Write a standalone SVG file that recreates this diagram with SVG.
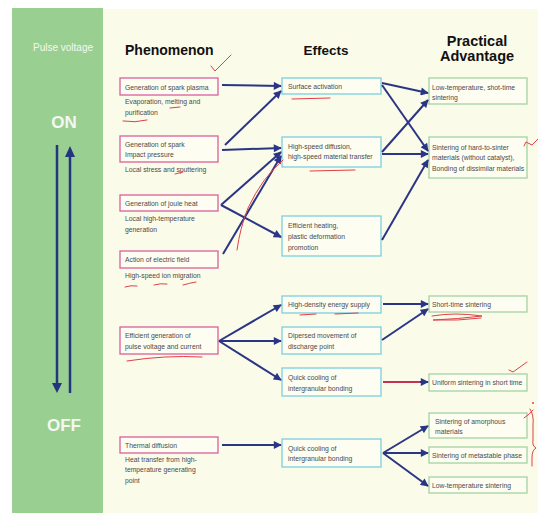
<svg xmlns="http://www.w3.org/2000/svg" width="538" height="513" viewBox="0 0 538 513">
<defs>
<marker id="ah" viewBox="0 0 10 10" refX="9" refY="5" markerWidth="9" markerHeight="8" markerUnits="userSpaceOnUse" orient="auto">
<path d="M0,0 L10,5 L0,10 Z" fill="#2b3585"/>
</marker>
<style>
.t{font-family:"Liberation Sans",Arial,sans-serif;font-size:6.8px;fill:#4a4a4a}
.h{font-family:"Liberation Sans",Arial,sans-serif;font-weight:bold;fill:#111}
.w{font-family:"Liberation Sans",Arial,sans-serif;fill:#f4f8f0;text-anchor:middle}
.pb{fill:#fdfdf2;stroke:#d9609b;stroke-width:1.3}
.eb{fill:#fdfdf2;stroke:#7ccfdc;stroke-width:1.3}
.ab{fill:#fdfdf2;stroke:#a3d3a0;stroke-width:1.3}
.c{stroke:#2b3585;stroke-width:2;fill:none;marker-end:url(#ah)}
.r{stroke:#e0404a;stroke-width:1;fill:none;stroke-linecap:round}
</style>
</defs>
<rect x="0" y="0" width="538" height="513" fill="#ffffff"/>
<rect x="103" y="9" width="435" height="504" fill="#fbfbea"/>
<rect x="12" y="8" width="91" height="505" fill="#9acf92"/>
<g id="sidebar">
<text class="w" x="63" y="51" font-size="10">Pulse voltage</text>
<text class="w" x="64" y="128" font-size="17" font-weight="bold">ON</text>
<text class="w" x="64" y="431" font-size="17" font-weight="bold">OFF</text>
<line x1="57" y1="145" x2="57" y2="384" stroke="#23357f" stroke-width="2.5"/>
<path d="M52,383 L62,383 L57,393 Z" fill="#23357f"/>
<line x1="70" y1="393" x2="70" y2="156" stroke="#23357f" stroke-width="2.5"/>
<path d="M65,157 L75,157 L70,146 Z" fill="#23357f"/>
</g>
<g id="headers">
<text class="h" x="125" y="55" font-size="14">Phenomenon</text>
<text class="h" x="326" y="55" font-size="13.5" text-anchor="middle">Effects</text>
<text class="h" x="477" y="46" font-size="14.5" text-anchor="middle">Practical</text>
<text class="h" x="477" y="61" font-size="14.5" text-anchor="middle">Advantage</text>
</g>
<g id="p1"><rect class="pb" x="120" y="78" width="98" height="17"/><text class="t" x="125" y="89.5">Generation of spark plasma</text><text class="t" x="125" y="104">Evaporation, melting and</text><text class="t" x="125" y="115">purification</text></g>
<g id="p2"><rect class="pb" x="120" y="136" width="98" height="26"/><text class="t" x="125" y="146.5">Generation of spark</text><text class="t" x="125" y="156.5">Impact pressure</text><text class="t" x="125" y="171.5">Local stress and sputtering</text></g>
<g id="p3"><rect class="pb" x="120" y="195" width="98" height="16"/><text class="t" x="125" y="205.5">Generation of joule heat</text><text class="t" x="125" y="221">Local high-temperature</text><text class="t" x="125" y="232">generation</text></g>
<g id="p4"><rect class="pb" x="120" y="251" width="98" height="17"/><text class="t" x="125" y="261.5">Action of electric field</text><text class="t" x="125" y="278">High-speed ion migration</text></g>
<g id="p5"><rect class="pb" x="120" y="327" width="98" height="27"/><text class="t" x="125" y="337.5">Efficient generation of</text><text class="t" x="125" y="348.5">pulse voltage and current</text></g>
<g id="p6"><rect class="pb" x="120" y="437" width="98" height="16"/><text class="t" x="125" y="447.5">Thermal diffusion</text><text class="t" x="125" y="462">Heat transfer from high-</text><text class="t" x="125" y="472">temperature generating</text><text class="t" x="125" y="483">point</text></g>
<g id="e1"><rect class="eb" x="282" y="78" width="99" height="16"/><text class="t" x="288" y="89">Surface activation</text></g>
<g id="e2"><rect class="eb" x="282" y="137" width="99" height="30"/><text class="t" x="288" y="148.5">High-speed diffusion,</text><text class="t" x="288" y="158.5">high-speed material transfer</text></g>
<g id="e3"><rect class="eb" x="282" y="216" width="99" height="40"/><text class="t" x="288" y="227.5">Efficient heating,</text><text class="t" x="288" y="238.5">plastic deformation</text><text class="t" x="288" y="249.5">promotion</text></g>
<g id="e4"><rect class="eb" x="282" y="296" width="99" height="17"/><text class="t" x="288" y="306.5">High-density energy supply</text></g>
<g id="e5"><rect class="eb" x="282" y="327" width="99" height="27"/><text class="t" x="288" y="337.5">Dipersed movement of</text><text class="t" x="288" y="348.5">discharge point</text></g>
<g id="e6"><rect class="eb" x="282" y="368" width="99" height="28"/><text class="t" x="288" y="379.5">Quick cooling of</text><text class="t" x="288" y="390.5">intergranular bonding</text></g>
<g id="e7"><rect class="eb" x="282" y="439" width="99" height="28"/><text class="t" x="288" y="450.5">Quick cooling of</text><text class="t" x="288" y="461">intergranular bonding</text></g>
<g id="a1"><rect class="ab" x="429" y="78" width="98" height="26"/><text class="t" x="432" y="89.5">Low-temperature, shot-time</text><text class="t" x="432" y="99.5">sintering</text></g>
<g id="a2"><rect class="ab" x="429" y="137" width="98" height="41"/><text class="t" x="432" y="149.5">Sintering of hard-to-sinter</text><text class="t" x="432" y="159.5">materials (without catalyst),</text><text class="t" x="432" y="170.5">Bonding of dissimilar materials</text></g>
<g id="a3"><rect class="ab" x="429" y="296" width="98" height="16"/><text class="t" x="432" y="306.5">Short-time sintering</text></g>
<g id="a4"><rect class="ab" x="429" y="374" width="98" height="17"/><text class="t" x="432" y="385">Uniform sintering in short time</text></g>
<g id="a5"><rect class="ab" x="429" y="413" width="98" height="25"/><text class="t" x="435" y="423.5">Sintering of amorphous</text><text class="t" x="435" y="433.5">materials</text></g>
<g id="a6"><rect class="ab" x="429" y="447" width="98" height="16"/><text class="t" x="432" y="457.5">Sintering of metastable phase</text></g>
<g id="a7"><rect class="ab" x="429" y="477" width="98" height="16"/><text class="t" x="432" y="488">Low-temperature sintering</text></g>
<g id="connectors">
<line class="c" x1="222" y1="85" x2="281" y2="86"/>
<line class="c" x1="225" y1="145" x2="281" y2="91"/>
<line class="c" x1="222" y1="150" x2="281" y2="148"/>
<line class="c" x1="221" y1="205" x2="281" y2="152"/>
<line class="c" x1="221" y1="205" x2="281" y2="237"/>
<line class="c" x1="223" y1="254" x2="281" y2="156"/>
<line class="c" x1="382" y1="83" x2="428" y2="93"/>
<line class="c" x1="382" y1="85" x2="428" y2="151"/>
<line class="c" x1="382" y1="152" x2="428" y2="100"/>
<line class="c" x1="382" y1="154" x2="428" y2="154"/>
<line class="c" x1="382" y1="240" x2="428" y2="160"/>
<line class="c" x1="219" y1="341" x2="281" y2="305"/>
<line class="c" x1="219" y1="341" x2="281" y2="341"/>
<line class="c" x1="219" y1="341" x2="281" y2="380"/>
<line class="c" x1="222" y1="445" x2="281" y2="445"/>
<line class="c" x1="383" y1="304" x2="428" y2="304"/>
<line class="c" x1="382" y1="340" x2="428" y2="309"/>
<line class="c" x1="383" y1="382" x2="428" y2="382"/>
<line class="c" x1="383" y1="453" x2="428" y2="426"/>
<line class="c" x1="383" y1="453" x2="428" y2="453"/>
<line class="c" x1="383" y1="453" x2="428" y2="486"/>
</g>
<g id="annotations">
<path class="r" d="M211,66 L215,71 L231,55"/>
<path class="r" d="M123,121 Q135,123 147,120"/>
<path class="r" d="M170,108 L180,107"/>
<path class="r" d="M175,174 L183,172"/>
<path class="r" d="M125,287 Q131,285 137,286 M154,285 Q161,283 167,284 M183,285 Q190,283 196,282"/>
<path class="r" d="M292,99 L330,98"/>
<path class="r" d="M310,171 L355,170"/>
<path class="r" d="M283,160 Q262,178 248,208 Q240,228 237,250" stroke="#e68a5a"/>
<path class="r" d="M300,315 L316,314 M335,314 L358,313"/>
<path class="r" d="M432,316 Q455,312 482,316 Q458,319 433,320 Q458,321 481,318"/>
<path class="r" d="M127,361 Q165,355 202,357"/>
<path stroke="#c83050" stroke-width="2" d="M383,382 L420,382"/>
<path class="r" d="M509,370 L513,372 L527,362"/>
<path class="r" d="M524,146 L526,142 L532,145 L538,139"/>
<path class="r" d="M524,418 Q530,414 533,410 M530,409 Q534,415 533,425 L533,440 Q532,446 536,448 Q532,450 532,458 L532,466"/>
<circle cx="533" cy="403" r="1" fill="#e0404a"/>
</g>
</svg>
